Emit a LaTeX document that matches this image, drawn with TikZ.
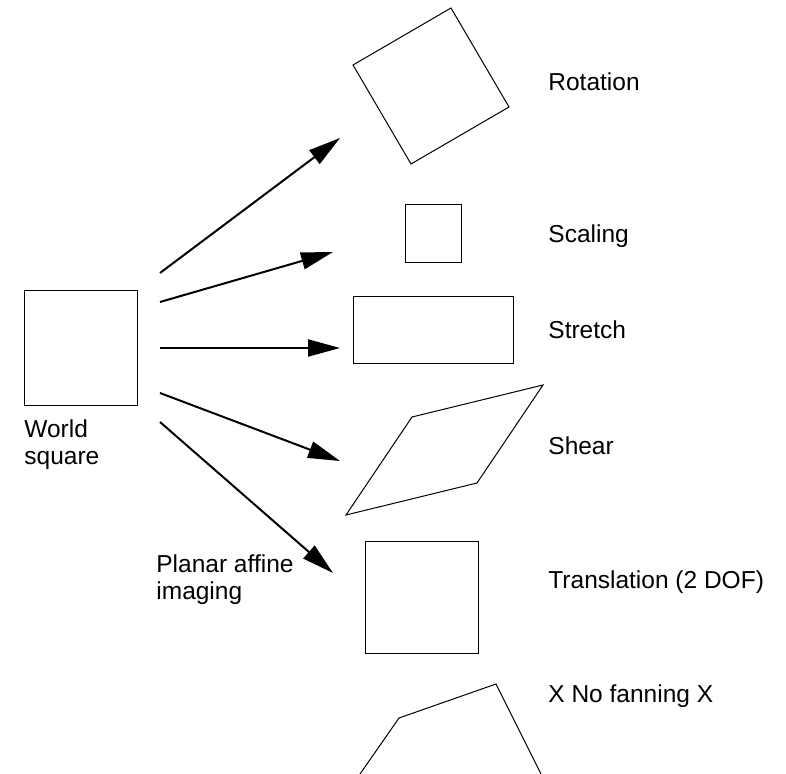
\documentclass[tikz,border=0pt]{standalone}
\usepackage{fontspec}
\setmainfont{Liberation Sans}
\usetikzlibrary{arrows.meta}

\begin{document}
\begin{tikzpicture}[x=0.5pt, y=-0.5pt,
    every node/.style={font=\fontsize{12.25}{13.5}\selectfont, inner sep=0pt, anchor=base west, align=left},
    shapeline/.style={line width=0.5pt, line join=miter},
    maparrow/.style={line width=1pt, -{Triangle[length=16pt,width=8.5pt]}}]
    \useasboundingbox (0,0) rectangle (786,774);
    \clip (0,0) rectangle (786,774);

    % world square on the left
    \draw[shapeline] (24,291) rectangle (137,406);
    \node (worldlbl) at (24,465) {World\\square};
    \node (imaginglbl) at (156,599) {Planar affine\\imaging};

    % images of the square
    \draw[shapeline] (353,65) -- (411,164) -- (509,107) -- (451,8) -- cycle;
    \draw[shapeline] (405,205) rectangle (461,263);
    \draw[shapeline] (353,297) rectangle (513,364);
    \draw[shapeline] (346,515) -- (412,417) -- (543,385) -- (477,483) -- cycle;
    \draw[shapeline] (365,541) rectangle (478,653);
    \draw[shapeline] (360,774) -- (399,718) -- (496,684) -- (541,774);

    % names of the transforms
    \node (rotlbl)   at (548,91)  {Rotation};
    \node (scalelbl) at (548,243) {Scaling};
    \node (strlbl)   at (548,339) {Stretch};
    \node (shearlbl) at (548,455) {Shear};
    \node (translbl) at (548,588) {Translation (2 DOF)};
    \node (fanlbl)   at (548,702) {X No fanning X};

    % arrow ends
    \coordinate (from1) at (160,273);  \coordinate (to1) at (340,138);
    \coordinate (from2) at (160,302);  \coordinate (to2) at (333,252);
    \coordinate (from3) at (160,348);  \coordinate (to3) at (340,348);
    \coordinate (from4) at (160,393);  \coordinate (to4) at (340,461);
    \coordinate (from5) at (160,422);  \coordinate (to5) at (333,573);

    \foreach \i in {1,...,5}
        \draw[maparrow] (from\i) -- (to\i);
\end{tikzpicture}
\end{document}
